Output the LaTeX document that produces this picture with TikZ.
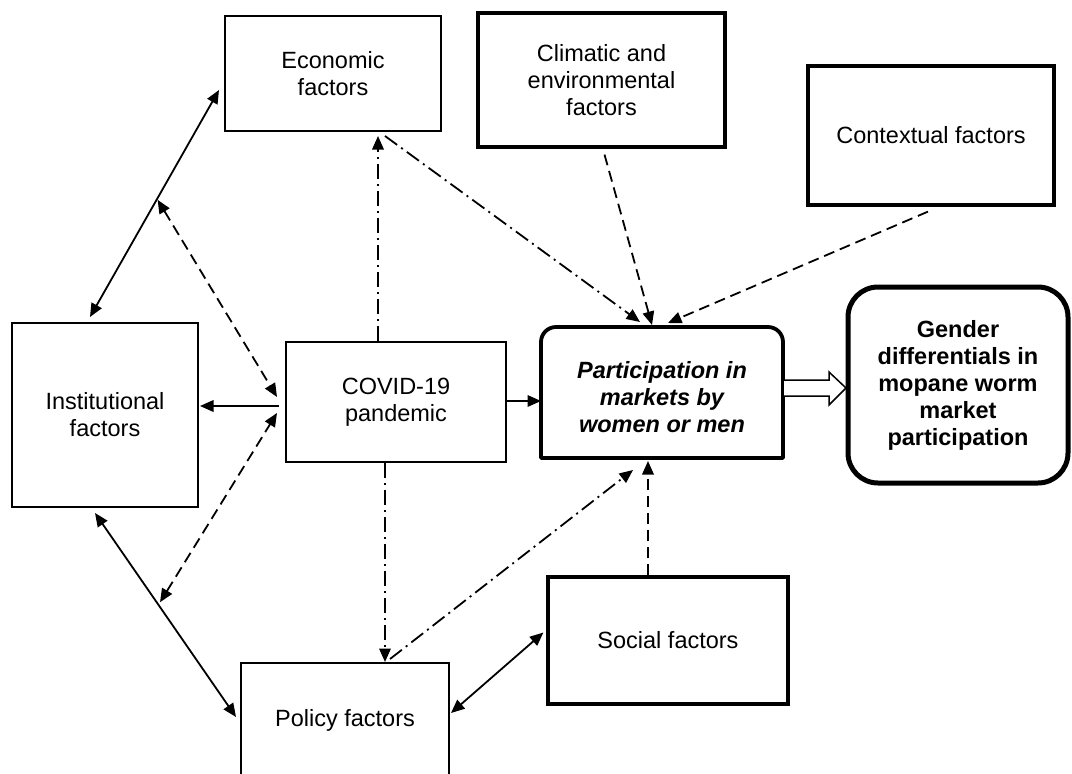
\documentclass[tikz,border=0pt]{standalone}
\usepackage{fontspec}
\setmainfont{Liberation Sans}
\usetikzlibrary{arrows.meta,calc}
\begin{document}
\begin{tikzpicture}[x=1pt,y=-1pt,
  box/.style={draw, line width=2pt, inner sep=0pt, align=center,
              font=\fontsize{23.5}{27}\selectfont},
  thickbox/.style={box, line width=3.2pt},
  tip/.tip={Triangle[length=13.5pt,width=11.5pt]},
  conn/.style={line width=1.8pt, -tip},
  both/.style={line width=1.8pt, tip-tip},
  dsh/.style={dash pattern=on 11pt off 6pt},
  dd/.style={dash pattern=on 15pt off 5pt on 2pt off 5pt}]

\useasboundingbox (0,0) rectangle (1072,774);
\fill[white] (0,0) rectangle (1072,774);
\clip (0,0) rectangle (1072,774);

% boxes
\node[box, minimum width=216pt, minimum height=115pt] (econ) at (333,73.5) {Economic\\factors};
\node[thickbox, minimum width=247pt, minimum height=134pt] (clim) at (601.5,80) {Climatic and\\environmental\\factors};
\node[thickbox, minimum width=246pt, minimum height=139pt] (ctx) at (931,135.5) {Contextual factors};
\node[box, minimum width=186pt, minimum height=184pt] (inst) at (105,415) {Institutional\\factors};
\node[box, minimum width=220pt, minimum height=120pt] (covid) at (396,402) {COVID-19\\pandemic};
\node[box, draw=none, minimum width=240pt, minimum height=129pt, font=\fontsize{23.5}{27}\selectfont\bfseries\itshape] (part) at (662,397) {Participation in\\markets by\\women or men};
% outline of the participation box (drawn 4.5pt above the text centre)
\coordinate (psw) at ([yshift=4.5pt]part.south west);
\coordinate (pse) at ([yshift=4.5pt]part.south east);
\coordinate (pnw) at ([yshift=4.5pt]part.north west);
\coordinate (pne) at ([yshift=4.5pt]part.north east);
\coordinate (pn) at ([yshift=4.5pt]part.north);
\coordinate (ps) at ([yshift=4.5pt]part.south);
\coordinate (pe) at ([yshift=4.5pt]part.east);
\draw[line width=3.8pt, line join=round] (psw) -- ([yshift=-15pt]pnw)
   arc[start angle=180,end angle=90,radius=15pt] -- ([xshift=-15pt]pne)
   arc[start angle=90,end angle=0,radius=15pt] -- (pse) -- cycle;
\node[box, line width=5pt, rounded corners=30pt, minimum width=220pt, minimum height=196pt,
      font=\fontsize{23.5}{27}\selectfont\bfseries] (gender) at (958,385)
      {Gender\\differentials in\\mopane worm\\market\\participation};
\node[thickbox, minimum width=240pt, minimum height=127pt] (social) at (668,640.5) {Social factors};
\node[box, minimum width=208pt, minimum height=114pt] (policy) at (345,720) {Policy factors};

% anchor points
\coordinate (ie1) at ([xshift=-15pt,yshift=5pt]inst.north);
\coordinate (ie2) at ([xshift=-5pt,yshift=-16.5pt]econ.west);
\coordinate (ip1) at ([xshift=-10pt,yshift=-5pt]inst.south);
\coordinate (ip2) at ([xshift=-4pt,yshift=3pt]policy.west);
\coordinate (m1) at ($(ie1)!0.52!(ie2)$);
\coordinate (m2) at ($(ip1)!0.45!(ip2)$);
\coordinate (ci) at ([xshift=-6pt,yshift=-4pt]covid.west);
\coordinate (cv1) at ([xshift=-8pt,yshift=5pt]covid.west);
\coordinate (cv2) at ([xshift=-8pt,yshift=-11pt]covid.west);
\coordinate (ce) at ([xshift=-18pt]covid.north);
\coordinate (cp) at ([xshift=-11pt]covid.south);
\coordinate (pp1) at ([xshift=45pt,yshift=3pt]policy.north);
\coordinate (pp2) at ([xshift=-29pt,yshift=-12pt]ps);
\coordinate (sp) at ([xshift=-20pt]social.north);
\coordinate (sp1) at ([xshift=-3pt,yshift=8pt]social.west);
\coordinate (sp2) at ([xshift=1pt,yshift=7pt]policy.east);
\coordinate (ep1) at ([xshift=52pt,yshift=-4pt]econ.south);
\coordinate (ep2) at ([xshift=-22pt,yshift=5pt]pn);
\coordinate (cl1) at ([xshift=3pt,yshift=-6pt]clim.south);
\coordinate (cl2) at ([xshift=-10pt,yshift=2pt]pn);
\coordinate (cx1) at ([xshift=-3pt,yshift=-5pt]ctx.south);
\coordinate (cx2) at ([xshift=6pt,yshift=4pt]pn);
\coordinate (cpt) at ([yshift=1pt]covid.east);
\coordinate (h0) at ([yshift=4.5pt]pe);

% connectors
\draw[both] (ie1) -- (ie2);
\draw[both] (ip1) -- (ip2);
\draw[conn, shorten >=1pt] (ci) -- (ci -| inst.east);
\draw[both, dsh, shorten <=1pt] (m1) -- (cv1);
\draw[both, dsh, shorten <=3pt] (m2) -- (cv2);
\draw[conn, dd, shorten >=4pt] (ce) -- (ce |- econ.south);
\draw[conn, dd] (cp) -- (cp |- policy.north);
\draw[conn, dd] (pp1) -- (pp2);
\draw[conn, dsh, shorten >=3pt] (sp) -- (sp |- ps);
\draw[both] (sp2) -- (sp1);
\draw[conn, dd] (ep1) -- (ep2);
\draw[conn, dsh] (cl1) -- (cl2);
\draw[conn, dsh] (cx1) -- (cx2);
\draw[conn] (cpt) -- (cpt -| part.west);

% hollow arrow to outcome
\draw[line width=1.5pt, fill=white, line join=miter]
  ($(h0)+(1,-8)$) -- ($(h0)+(46,-8)$) -- ($(h0)+(46,-16)$) -- ($(h0)+(63,0)$)
  -- ($(h0)+(46,17)$) -- ($(h0)+(46,8)$) -- ($(h0)+(1,8)$);
\end{tikzpicture}
\end{document}
